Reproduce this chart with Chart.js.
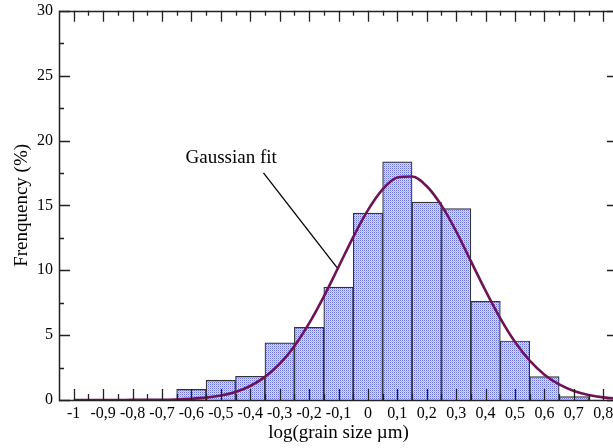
<!DOCTYPE html>
<html>
<head>
<meta charset="utf-8">
<script src="https://cdn.jsdelivr.net/npm/chart.js@4/dist/chart.umd.min.js"></script>
<style>
  html, body { margin: 0; padding: 0; background: #fff; overflow: hidden; }
  #wrap { width: 625px; height: 448px; position: relative; }
</style>
</head>
<body>
<div id="wrap"><canvas id="c"></canvas></div>
<script>
// ---- data ----
const binCenters = [-0.6, -0.5, -0.4, -0.3, -0.2, -0.1, 0.0, 0.1, 0.2, 0.3, 0.4, 0.5, 0.6, 0.7];
const frequency  = [0.82, 1.52, 1.83, 4.4, 5.6, 8.7, 14.4, 18.35, 15.25, 14.75, 7.6, 4.55, 1.8, 0.26];

const fitX = [-1.0, -0.95, -0.9, -0.85, -0.8, -0.75, -0.7, -0.65, -0.6, -0.55, -0.5, -0.45, -0.4, -0.35,
              -0.3, -0.25, -0.2, -0.15, -0.1, -0.05, 0.0, 0.05, 0.1, 0.15, 0.2, 0.25, 0.3, 0.35,
              0.4, 0.45, 0.5, 0.55, 0.6, 0.65, 0.7, 0.75, 0.8, 0.85];
const fitY = [0.0, 0.0, 0.0, 0.0, 0.01, 0.01, 0.02, 0.04, 0.09, 0.18, 0.34, 0.62, 1.08, 1.78,
              2.78, 4.15, 5.9, 7.97, 10.25, 12.56, 14.64, 16.24, 17.15, 17.23, 16.48, 15.0, 13.0, 10.7,
              8.42, 6.29, 4.47, 3.03, 1.95, 1.2, 0.7, 0.39, 0.2, 0.1];

const xTickValues = [-1, -0.9, -0.8, -0.7, -0.6, -0.5, -0.4, -0.3, -0.2, -0.1, 0, 0.1, 0.2, 0.3, 0.4, 0.5, 0.6, 0.7, 0.8];
const xTickLabels = ['-1', '-0,9', '-0,8', '-0,7', '-0,6', '-0,5', '-0,4', '-0,3', '-0,2', '-0,1', '0', '0,1', '0,2', '0,3', '0,4', '0,5', '0,6', '0,7', '0,8'];
const yTickValues = [0, 5, 10, 15, 20, 25, 30];
const yTickLabels = ['0', '5', '10', '15', '20', '25', '30'];

const annotationText = 'Gaussian fit';
const annotationTextAt = [-0.62, 18.65];
const annotationLineFrom = [-0.355, 17.5];
const annotationLineTo = [-0.105, 10.2];

// ---- pattern fill for bars ----
function makePattern() {
  const p = document.createElement('canvas');
  p.width = 2; p.height = 2;
  const g = p.getContext('2d');
  g.fillStyle = '#d8dbf4'; g.fillRect(0, 0, 2, 2);
  g.fillStyle = '#6a72d6'; g.fillRect(0, 0, 1, 1);
  g.fillStyle = '#aeb3e8'; g.fillRect(1, 1, 1, 1);
  return g.createPattern(p, 'repeat');
}
const pattern = makePattern();

const serif = "'Liberation Serif', 'DejaVu Serif', serif";

const frameAndTicks = {
  id: 'frameAndTicks',
  afterDatasetsDraw(chart) {
    const { ctx, chartArea: a, scales: { x, y } } = chart;
    ctx.save();
    ctx.strokeStyle = '#222';
    ctx.lineWidth = 1.3;
    for (let i = 0; i < xTickValues.length; i++) {
      const v = xTickValues[i];
      const px = Math.round(x.getPixelForValue(v)) + 0.5;
      ctx.beginPath();
      ctx.moveTo(px, a.bottom); ctx.lineTo(px, a.bottom - 11);
      ctx.moveTo(px, a.top); ctx.lineTo(px, a.top + 11);
      ctx.stroke();
      const mv = v + 0.05;
      if (mv < x.max) {
        const pm = Math.round(x.getPixelForValue(mv)) + 0.5;
        ctx.beginPath();
        ctx.moveTo(pm, a.bottom); ctx.lineTo(pm, a.bottom - 6);
        ctx.moveTo(pm, a.top); ctx.lineTo(pm, a.top + 5);
        ctx.stroke();
      }
    }
    for (let i = 0; i < yTickValues.length; i++) {
      const v = yTickValues[i];
      const py = Math.round(y.getPixelForValue(v)) + 0.5;
      ctx.beginPath();
      ctx.moveTo(a.left, py); ctx.lineTo(a.left + 11, py);
      ctx.moveTo(a.right, py); ctx.lineTo(a.right - 11, py);
      ctx.stroke();
      if (i < yTickValues.length - 1) {
        const pm = Math.round(y.getPixelForValue(v + 2.5)) + 0.5;
        ctx.beginPath();
        ctx.moveTo(a.left, pm); ctx.lineTo(a.left + 5, pm);
        ctx.moveTo(a.right, pm); ctx.lineTo(a.right - 5, pm);
        ctx.stroke();
      }
    }
    ctx.lineWidth = 1.5;
    ctx.strokeRect(Math.round(a.left) + 0.5, Math.round(a.top) + 0.5,
                   Math.round(a.right - a.left), Math.round(a.bottom - a.top));
    ctx.fillStyle = '#000';
    ctx.font = '19px ' + serif;
    ctx.textBaseline = 'middle';
    ctx.textAlign = 'left';
    ctx.fillText(annotationText, x.getPixelForValue(annotationTextAt[0]), y.getPixelForValue(annotationTextAt[1]));
    ctx.lineWidth = 1.3;
    ctx.strokeStyle = '#000';
    ctx.beginPath();
    ctx.moveTo(x.getPixelForValue(annotationLineFrom[0]), y.getPixelForValue(annotationLineFrom[1]));
    ctx.lineTo(x.getPixelForValue(annotationLineTo[0]), y.getPixelForValue(annotationLineTo[1]));
    ctx.stroke();
    ctx.restore();
  }
};

new Chart(document.getElementById('c'), {
  type: 'bar',
  data: {
    datasets: [
      {
        type: 'line',
        label: 'Gaussian fit',
        data: fitX.map((v, i) => ({ x: v, y: fitY[i] })),
        borderColor: '#6e1456',
        borderWidth: 2.6,
        pointRadius: 0,
        cubicInterpolationMode: 'monotone',
        fill: false,
        order: 0
      },
      {
        type: 'bar',
        label: 'Frequency',
        data: binCenters.map((v, i) => ({ x: v, y: frequency[i] })),
        backgroundColor: pattern,
        borderColor: '#333',
        borderWidth: 1.2,
        borderSkipped: 'bottom',
        barPercentage: 1,
        categoryPercentage: 1,
        order: 1
      }
    ]
  },
  options: {
    responsive: true,
    maintainAspectRatio: false,
    animation: false,
    events: [],
    layout: { padding: { top: 0, right: 7, left: 0, bottom: 0 } },
    plugins: { legend: { display: false }, tooltip: { enabled: false } },
    scales: {
      x: {
        type: 'linear',
        offset: false,
        min: -1.05,
        max: 0.85,
        grid: { display: false, drawTicks: false },
        border: { display: false },
        afterBuildTicks: (s) => { s.ticks = xTickValues.map(v => ({ value: v })); },
        afterFit: (s) => { s.height = 48; },
        ticks: {
          autoSkip: false,
          maxRotation: 0,
          padding: 4,
          color: '#000',
          font: { family: serif, size: 16 },
          callback: (v, i) => xTickLabels[i]
        },
        title: {
          display: true,
          text: 'log(grain size µm)',
          color: '#000',
          font: { family: serif, size: 19 },
          padding: { top: 0, bottom: 4 }
        }
      },
      y: {
        type: 'linear',
        min: 0,
        max: 30,
        grid: { display: false, drawTicks: false },
        border: { display: false },
        afterBuildTicks: (s) => { s.ticks = yTickValues.map(v => ({ value: v })); },
        afterFit: (s) => { s.width = 59; },
        ticks: {
          autoSkip: false,
          padding: 6,
          color: '#000',
          font: { family: serif, size: 16, lineHeight: 0.6 },
          callback: (v, i) => yTickLabels[i]
        },
        title: {
          display: true,
          text: 'Frenquency (%)',
          color: '#000',
          font: { family: serif, size: 19 },
          padding: { top: 11, bottom: 0 }
        }
      }
    }
  },
  plugins: [frameAndTicks]
});
</script>
</body>
</html>
